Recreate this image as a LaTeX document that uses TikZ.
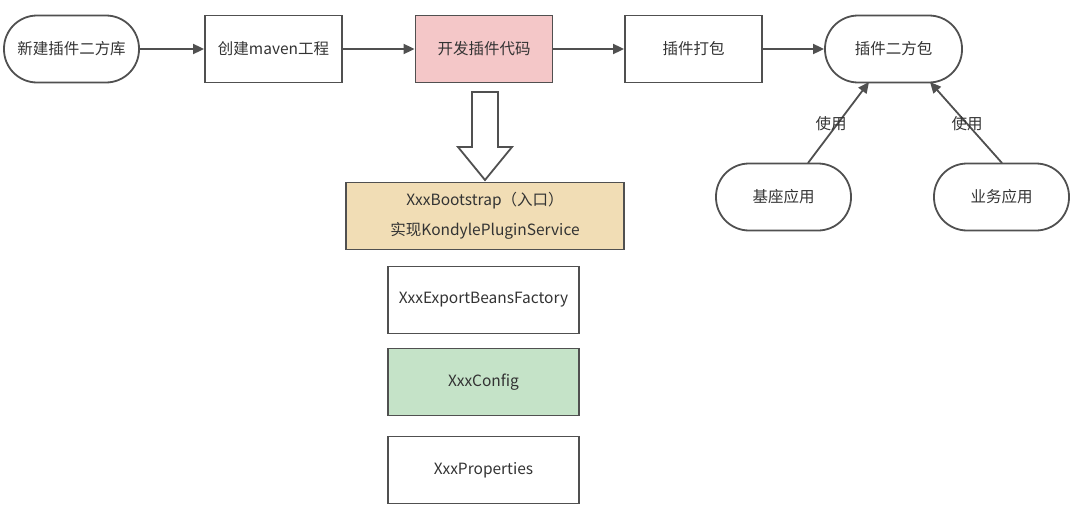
\documentclass[tikz,border=0pt]{standalone}
\usepackage{fontspec}
\setmainfont{Noto Sans CJK SC}
\usetikzlibrary{arrows.meta}
\definecolor{strk}{HTML}{505050}
\definecolor{txt}{HTML}{333333}
\definecolor{pinkf}{HTML}{F4C7C8}
\definecolor{tanf}{HTML}{F1DDB5}
\definecolor{greenf}{HTML}{C5E3C8}
\tikzset{
  base/.style={draw=strk, line width=1.8pt, inner sep=0pt, text=txt,
    font=\fontsize{15.5}{18}\selectfont, align=center},
  boxn/.style={base, rectangle, minimum width=137pt, minimum height=67pt},
  pill/.style={base, rectangle, rounded corners=33pt, minimum width=135pt, minimum height=67pt},
  conn/.style={draw=strk, line width=1.8pt, -{Triangle[length=11pt,width=10pt]}},
  lbl/.style={text=txt, font=\fontsize{15.5}{18}\selectfont, inner sep=1pt}
}
\begin{document}
\begin{tikzpicture}[x=1pt,y=-1pt]
\useasboundingbox (0,0) rectangle (1080,514);
\node[pill] (n1) at (71.5,49) {新建插件二方库};
\node[boxn] (n2) at (273.5,49) {创建maven工程};
\node[boxn, fill=pinkf] (n3) at (484,49) {开发插件代码};
\node[boxn] (n4) at (693.5,49) {插件打包};
\node[pill, minimum width=137pt] (n5) at (893.5,49) {插件二方包};
\draw[conn] (n1) -- (n2);
\draw[conn] (n2) -- (n3);
\draw[conn] (n3) -- (n4);
\draw[conn] (n4) -- (n5);

\node[boxn, fill=tanf, minimum width=278pt, font=\fontsize{15.5}{30}\selectfont] (b1) at (485,216) {XxxBootstrap（入口）\\实现KondylePluginService};
\node[boxn, minimum width=191pt] (b2) at (483.5,300) {XxxExportBeansFactory};
\node[boxn, fill=greenf, minimum width=191pt] (b3) at (483.5,382) {XxxConfig};
\node[boxn, minimum width=191pt] (b4) at (483.5,470) {XxxProperties};

\draw[draw=strk, line width=1.8pt, fill=white, line join=miter]
  (472,92) -- (498,92) -- (498,147) -- (512,147) -- (485,180) -- (458,147) -- (472,147) -- cycle;

\node[pill] (u1) at (783.5,197) {基座应用};
\node[pill] (u2) at (1001.5,197) {业务应用};
\coordinate (s1) at (808,163);
\coordinate (e1) at (869,82);
\coordinate (s2) at (1002,163);
\coordinate (e2) at (930,82);
\draw[conn] (s1) -- (e1);
\draw[conn] (s2) -- (e2);
\node[lbl] (l1) at (831,124) {使用};
\node[lbl] (l2) at (967,124) {使用};
\end{tikzpicture}
\end{document}
